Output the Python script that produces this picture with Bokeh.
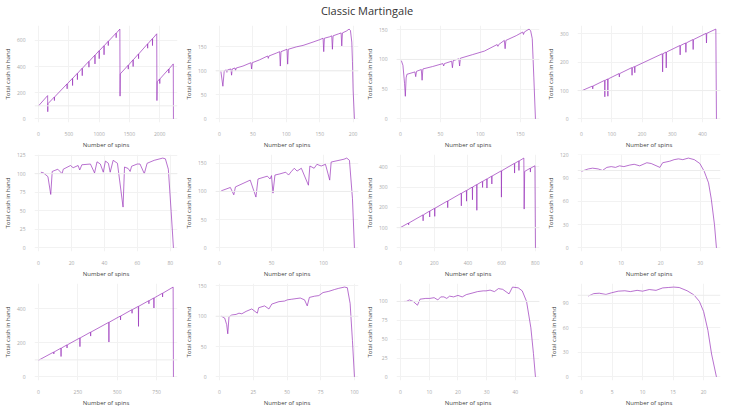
from bokeh.plotting import figure
from bokeh.layouts import gridplot, column
from bokeh.models import Range1d, FixedTicker, Span, Div
from bokeh.embed import file_html
from bokeh.resources import INLINE

# values, one simulated session per panel
spins1 = [0, 150, 152, 155, 260, 262, 264, 470, 472, 474, 560, 562, 564, 640, 642, 644, 720, 722, 724,
          830, 832, 834, 930, 932, 934, 1000, 1002, 1004, 1080, 1082, 1084, 1150, 1152, 1154, 1280, 1282, 1284,
          1343, 1346, 1350, 1480, 1482, 1484, 1560, 1562, 1564, 1650, 1652, 1654, 1800, 1802, 1804,
          1880, 1882, 1884, 1952, 1955, 1960, 2000, 2002, 2004, 2150, 2152, 2154, 2225, 2228]
cash1 = [100, 178, 55, 116, 167, 140, 167, 267, 230, 267, 310, 255, 310, 348, 300, 348, 387, 330, 387,
         439, 395, 439, 487, 420, 487, 521, 460, 521, 559, 490, 559, 593, 560, 593, 655, 620, 655,
         686, 174, 344, 410, 380, 410, 451, 400, 451, 496, 460, 496, 573, 540, 573,
         613, 560, 613, 650, 140, 284, 305, 270, 305, 381, 350, 381, 420, 0]

spins2 = [2, 5, 7, 10, 11, 12, 17, 18, 19, 23, 24, 25, 35, 47, 48, 49, 60, 72, 73, 74, 85, 90, 91, 92,
          101, 102, 103, 115, 125, 140, 150, 155, 156, 157, 165, 168, 169, 170, 178, 182, 183, 184,
          190, 194, 196, 198, 199, 200, 202]
cash2 = [99, 68, 100, 102, 97, 102, 104, 91, 104, 106, 101, 106, 110, 117, 104, 117, 123, 131, 126, 131, 137, 140, 110, 140,
         145, 114, 145, 150, 153, 160, 165, 168, 140, 168, 171, 173, 145, 173, 177, 179, 152, 179,
         183, 187, 184, 160, 120, 60, 0]

spins3 = [1, 3, 5, 6, 7, 8, 18, 19, 20, 26, 27, 28, 40, 53, 54, 55, 64, 65, 66, 73, 74, 75, 90, 105,
          121, 122, 123, 130, 131, 132, 145, 153, 154, 155, 161, 163, 165, 167, 169]
cash3 = [98, 90, 60, 38, 69, 75, 79, 71, 80, 83, 65, 84, 88, 93, 89, 93, 97, 86, 98, 101, 89, 102, 108, 114,
         125, 122, 125, 132, 118, 132, 140, 146, 142, 146, 151, 148, 135, 69, 0]

spins4 = [2, 36, 37, 38, 76, 77, 78, 86, 87, 88, 124, 125, 126, 166, 167, 168, 175, 176, 177, 267, 268, 269,
          279, 280, 281, 325, 326, 327, 344, 345, 346, 368, 369, 370, 412, 413, 414, 444, 446]
cash4 = [100, 116, 106, 116, 136, 78, 136, 141, 80, 141, 160, 148, 160, 181, 154, 181, 185, 163, 185, 230, 166, 230,
         236, 180, 236, 259, 226, 259, 268, 235, 268, 280, 245, 280, 302, 268, 302, 317, 0]

spins5 = [1.4, 3, 5.7, 7.4, 8.3, 11.7, 14.3, 15, 19.4, 21, 24, 25, 26.3, 31.5, 34, 35.5, 37.5, 39.3, 40.6,
          42.4, 43.5, 45.3, 47.9, 51.3, 52.2, 54.4, 55.6, 56.5, 59.9, 61.6, 64.2, 65.9, 70.2, 75.4, 77,
          78.8, 80.5, 81.9]
cash5 = [102, 101, 96, 72, 103, 106, 100, 106, 111, 108, 111, 105, 112, 113, 101, 116, 113, 102, 117,
         114, 102, 118, 114, 55, 109, 107, 103, 110, 113, 113, 100, 114, 118, 121, 120,
         106, 49, 0]

spins6 = [1.6, 10.4, 13.7, 15.3, 29.5, 35, 37, 46, 48.6, 50, 51.4, 53.3, 58, 63.7, 66.4, 69, 71.9, 74.6,
          78.7, 85.5, 86.9, 91, 93.7, 97.8, 101.9, 106, 107.4, 119.7, 122.4, 125, 127.9, 129.8]
cash6 = [101, 107, 94, 108, 120, 90, 122, 127, 122, 128, 97, 129, 131, 134, 129, 135, 141, 136,
         141, 111, 145, 141, 148, 145, 148, 120, 152, 157, 159, 155, 87, 0]

spins7 = [0, 47, 48, 49, 133, 134, 135, 172, 173, 174, 202, 203, 204, 279, 280, 281, 360, 361, 362,
          391, 392, 393, 426, 427, 428, 452, 453, 454, 486, 487, 488, 512, 513, 514, 541, 542, 543,
          598, 599, 600, 676, 677, 678, 702, 703, 704, 732, 734, 737, 770, 771, 772, 798, 801]
cash7 = [101, 123, 114, 123, 163, 134, 163, 182, 153, 182, 196, 156, 196, 232, 199, 232, 270, 208, 270,
         284, 231, 284, 301, 238, 301, 313, 186, 313, 329, 299, 329, 341, 296, 341, 355, 316, 355,
         381, 251, 381, 418, 370, 418, 430, 383, 430, 444, 192, 378, 394, 375, 394, 406, 0]

spins8 = [0, 1.7, 2.8, 4.2, 5.3, 6.4, 7.5, 8.6, 9.6, 10.7, 12.2, 13.3, 14.7, 16.5, 17.6, 19.8, 20.5,
          22.3, 23.4, 24.5, 25.6, 27, 28.5, 29.9, 31, 32.1, 32.8, 33.6, 34.1]
cash8 = [99, 102, 103, 102, 100, 104, 105, 104, 106, 105, 107, 108, 106, 110, 109, 104, 110,
         112, 114, 115, 114, 116, 114, 109, 99, 84, 63, 30, 0]

spins9 = [0, 96, 97, 98, 142, 143, 144, 180, 181, 182, 262, 263, 264, 330, 331, 332, 446, 447, 448,
          520, 521, 522, 593, 594, 595, 634, 635, 636, 700, 701, 702, 732, 733, 734, 787, 788, 789, 855, 857]
cash9 = [98, 146, 135, 146, 169, 120, 169, 188, 170, 188, 229, 178, 229, 263, 240, 263, 321, 205, 321,
         358, 335, 358, 395, 374, 395, 415, 297, 415, 448, 430, 448, 464, 405, 464, 492, 470, 492, 528, 0]

spins10 = [1.3, 3.8, 5.3, 6.1, 7, 9, 12.3, 14.4, 16.5, 19.7, 23.9, 28, 29, 33.4, 36.6, 38.7, 44, 48.2,
           50.3, 53.5, 56.7, 59.8, 63, 65, 66.6, 70.4, 73.6, 76.7, 81, 85.2, 88.4, 92.6, 94.7, 96.8, 98.5, 100]
cash10 = [100, 97, 86, 71, 99, 102, 103, 105, 104, 108, 112, 105, 114, 117, 112, 120, 124, 125,
          127, 128, 129, 130, 127, 117, 131, 133, 134, 139, 141, 144, 146, 148, 147, 121, 60, 0]

spins11 = [1.2, 2, 3.1, 4.4, 5.9, 6.8, 8.8, 10.2, 11.7, 13, 14, 15.1, 16.1, 17.1, 18.5, 20, 21.5, 22.9,
           24.9, 26.8, 28.8, 29.8, 31.2, 32.7, 34.1, 35.6, 37.8, 39, 41, 42.4, 43.9, 45.4, 46.3, 47]
cash11 = [100, 100, 102, 100, 95, 103, 104, 104, 105, 102, 106, 106, 104, 107, 106, 108, 106, 109,
          111, 113, 114, 114, 115, 113, 117, 116, 110, 119, 118, 114, 100, 65, 31, 0]

spins12 = [1.1, 2, 2.9, 4, 4.9, 6, 7.1, 8, 9.1, 10, 11.1, 12.2, 13.3, 14.2, 15.1, 16, 17.3, 18.4,
           19.3, 20, 20.7, 21.3, 22.1]
cash12 = [99, 102, 102.5, 101, 103, 105, 105.5, 104.5, 106, 105, 107, 106, 109, 109.5, 110, 109.5, 105.5, 100.5,
          92.5, 80, 57, 28, 0]

x_ticks = [[0, 500, 1000, 1500, 2000], [0, 50, 100, 150, 200], [0, 50, 100, 150], [0, 100, 200, 300, 400],
           [0, 20, 40, 60, 80], [0, 50, 100], [0, 200, 400, 600, 800], [0, 10, 20, 30],
           [0, 250, 500, 750], [0, 25, 50, 75, 100], [0, 10, 20, 30, 40], [0, 5, 10, 15, 20]]
y_ticks = [[0, 200, 400, 600], [0, 50, 100, 150], [0, 50, 100, 150], [0, 100, 200, 300],
           [0, 25, 50, 75, 100, 125], [0, 50, 100, 150], [0, 100, 200, 300, 400], [0, 30, 60, 90, 120],
           [0, 200, 400], [0, 50, 100, 150], [0, 25, 50, 75, 100], [0, 30, 60, 90]]
start_cash = 100

sessions = [(spins1, cash1), (spins2, cash2), (spins3, cash3), (spins4, cash4),
            (spins5, cash5), (spins6, cash6), (spins7, cash7), (spins8, cash8),
            (spins9, cash9), (spins10, cash10), (spins11, cash11), (spins12, cash12)]

FONT = "Open Sans"
figs = []
for i, (xs, ys) in enumerate(sessions):
    xmax = max(xs)
    ymax = max(ys)
    p = figure(width=181, height=129, output_backend="svg", toolbar_location=None,
               x_range=Range1d(-0.03 * xmax, xmax * 1.03),
               y_range=Range1d(-0.04 * ymax, ymax * 1.04),
               min_border_left=24, min_border_right=4, min_border_top=3, min_border_bottom=18)
    p.outline_line_color = None
    p.add_layout(Span(location=start_cash, dimension="width", line_color="#ececec", line_width=1))
    p.line(xs, ys, line_color="#9a35bb", line_alpha=0.7, line_width=1)

    p.xaxis.ticker = FixedTicker(ticks=x_ticks[i])
    p.yaxis.ticker = FixedTicker(ticks=y_ticks[i])
    p.xaxis.axis_label = "Number of spins"
    p.yaxis.axis_label = "Total cash in hand"
    for ax in (p.xaxis, p.yaxis):
        ax.axis_line_color = None
        ax.major_tick_line_color = None
        ax.minor_tick_line_color = None
        ax.axis_label_text_font = FONT
        ax.axis_label_text_font_size = "6px"
        ax.axis_label_text_font_style = "normal"
        ax.axis_label_text_color = "#444444"
        ax.axis_label_standoff = 2
        ax.major_label_text_font = FONT
        ax.major_label_text_font_size = "5px"
        ax.major_label_text_color = "#aaaaaa"
        ax.major_label_standoff = 3
    p.xgrid.grid_line_color = "#f2f2f2"
    p.ygrid.grid_line_color = "#f2f2f2"
    figs.append(p)

grid = gridplot(figs, ncols=4, toolbar_location=None)
title = Div(text="Classic Martingale", width=724, height=12,
            styles={"text-align": "center", "font-family": FONT, "font-size": "11px",
                    "line-height": "12px", "color": "#333333", "width": "724px"})

layout = column(title, grid)
open("out.html", "w").write(file_html(layout, INLINE))
